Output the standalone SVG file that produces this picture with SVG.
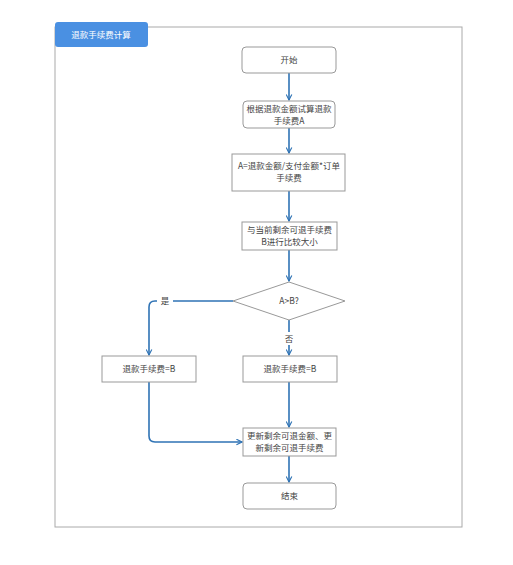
<svg xmlns="http://www.w3.org/2000/svg" width="513" height="565" viewBox="0 0 513 565">
<defs>
<style>
text{font-family:"Noto Sans CJK SC","Liberation Sans",sans-serif;font-size:8.5px;fill:#444;text-anchor:middle}
.box{fill:#fff;stroke:#999;stroke-width:1}
.ln{fill:none;stroke:#2f73b5;stroke-width:1.6}
.lbl{fill:#fff}
</style>
<marker id="ar" viewBox="0 0 10 10" refX="9" refY="5" markerWidth="7" markerHeight="7" orient="auto" markerUnits="userSpaceOnUse">
<path d="M1,1 L9,5 L1,9" fill="none" stroke="#2f73b5" stroke-width="1.6"/>
</marker>
</defs>
<rect width="513" height="565" fill="#fff"/>
<rect x="55" y="27" width="407" height="500" fill="none" stroke="#aaa" stroke-width="1"/>
<g id="title">
<rect x="55" y="22" width="93" height="25" rx="3" fill="#4a90e2"/>
<text x="101" y="38" style="fill:#fff">退款手续费计算</text>
</g>
<g id="connectors">
<path class="ln" d="M289,73 V100" marker-end="url(#ar)"/>
<path class="ln" d="M289,128 V153" marker-end="url(#ar)"/>
<path class="ln" d="M289,191 V221" marker-end="url(#ar)"/>
<path class="ln" d="M289,250 V281" marker-end="url(#ar)"/>
<path class="ln" d="M289,320 V355" marker-end="url(#ar)"/>
<path class="ln" d="M233,301 H155 Q149,301 149,307 V355" marker-end="url(#ar)"/>
<path class="ln" d="M289,382 V427" marker-end="url(#ar)"/>
<path class="ln" d="M149,382 V436 Q149,442 155,442 H242" marker-end="url(#ar)"/>
<path class="ln" d="M289,456 V482" marker-end="url(#ar)"/>
<rect class="lbl" x="157" y="294" width="16" height="14"/>
<text x="165" y="304">是</text>
<rect class="lbl" x="282" y="332" width="14" height="13"/>
<text x="289" y="342">否</text>
</g>
<g id="start">
<rect class="box" x="242" y="47" width="94" height="26" rx="4"/>
<text x="289" y="63">开始</text>
</g>
<g id="calc">
<rect class="box" x="243" y="101" width="92" height="27" rx="4"/>
<text x="289" y="111.5">根据退款金额试算退款</text>
<text x="289" y="123.8">手续费A</text>
</g>
<g id="formula">
<rect class="box" x="232" y="154" width="113" height="37"/>
<text x="289" y="168.5">A=退款金额/支付金额*订单</text>
<text x="289" y="180.8">手续费</text>
</g>
<g id="compare">
<rect class="box" x="242" y="222" width="95" height="28"/>
<text x="289.5" y="232.8">与当前剩余可退手续费</text>
<text x="289.5" y="245.1">B进行比较大小</text>
</g>
<g id="decision">
<polygon class="box" points="289,282 345,301 289,320 233,301"/>
<text x="289" y="304">A&gt;B?</text>
</g>
<g id="left">
<rect class="box" x="102" y="356" width="94" height="26"/>
<text x="149" y="372">退款手续费=B</text>
</g>
<g id="right">
<rect class="box" x="243" y="356" width="94" height="26"/>
<text x="290" y="372">退款手续费=B</text>
</g>
<g id="update">
<rect class="box" x="243" y="428" width="93" height="28"/>
<text x="289.5" y="438.8">更新剩余可退金额、更</text>
<text x="289.5" y="451.1">新剩余可退手续费</text>
</g>
<g id="end">
<rect class="box" x="243" y="483" width="93" height="26" rx="4"/>
<text x="289.5" y="499">结束</text>
</g>
</svg>
